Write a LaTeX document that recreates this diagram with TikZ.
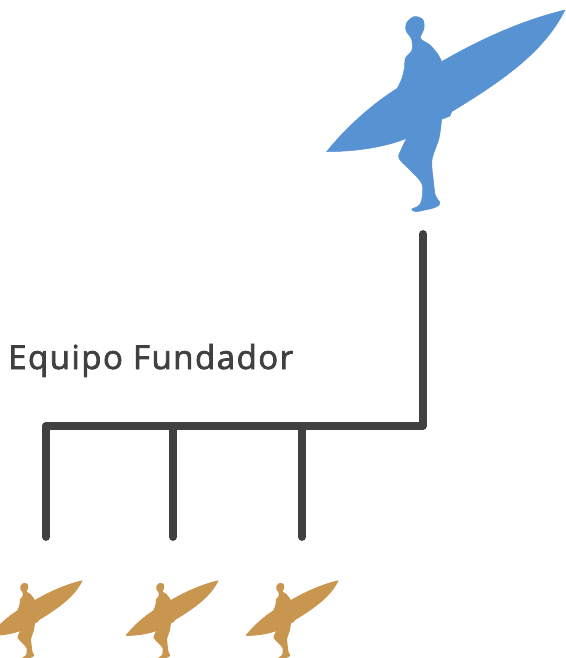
\documentclass[tikz,border=0pt]{standalone}
\usepackage{fontspec}
\setmainfont{Open Sans}
\newfontfamily\labelfont[FakeBold=2.2,LetterSpace=4.5]{Open Sans}
\definecolor{surfblue}{HTML}{5792D2}
\definecolor{surftan}{HTML}{C99650}
\definecolor{linegray}{HTML}{404040}
\newcommand{\surferpath}{
  (765,30) .. controls (705,150) and (590,235) .. (425,335)
  -- (420,348) -- (395,358)
  -- plot[smooth,tension=0.55] coordinates {(395,358)(387,415)(366,480)(370,540)(376,585)(390,610)(376,622)(345,630)(318,635)(305,628)(325,618)(335,600)(336,552)(300,510)(267,475)(274,448)(290,415)}
  .. controls (230,440) and (140,455) .. (50,455)
  .. controls (110,380) and (190,310) .. (262,265)
  -- plot[smooth,tension=0.55] coordinates {(262,265)(276,235)(284,200)(286,175)(306,150)(304,115)(289,95)(289,70)(312,50)(338,58)(342,85)(332,115)(360,135)(385,165)(395,185)}
  .. controls (490,130) and (620,65) .. (765,30)
  -- cycle}
\tikzset{
  x=1pt,y=-1pt,
  bar/.style={draw=linegray,line width=7.8pt,line cap=round,line join=round},
  bigsurfer/.style={fill=surfblue,draw=surfblue,line width=0.5pt,line join=round},
  smallsurfer/.style={fill=surftan,draw=surftan,line width=0.9pt,line join=round},
  label/.style={font=\labelfont\fontsize{33}{36}\selectfont,text=linegray,anchor=base west,inner sep=0pt},
}
\begin{document}
\begin{tikzpicture}
\useasboundingbox (0,0) rectangle (565,658);
\clip (0,0) rectangle (565,658);
% large surfer: 1/3 px per reference-zoom unit
\path[bigsurfer,shift={(310,0)},x=0.3333pt,y=-0.3333pt] \surferpath;
% small surfers
\path[smallsurfer,shift={(-16.2,577)},x=0.1283pt,y=-0.1283pt] \surferpath;
\path[smallsurfer,shift={(119.8,577)},x=0.1283pt,y=-0.1283pt] \surferpath;
\path[smallsurfer,shift={(239.8,577)},x=0.1283pt,y=-0.1283pt] \surferpath;
\node[label] (title) at (8,369) {Equipo Fundador};
\coordinate (top) at (423,234);
\coordinate (corner) at (423,426);
\coordinate (left) at (46,426);
\coordinate (mida) at (173,426);
\coordinate (midb) at (302,426);
\coordinate (enda) at (46,537);
\coordinate (endb) at (173,537);
\coordinate (endc) at (302,537);
\draw[bar] (top) -- (corner) -- (left);
\draw[bar] (left) -- (enda);
\draw[bar] (mida) -- (endb);
\draw[bar] (midb) -- (endc);
\end{tikzpicture}
\end{document}
